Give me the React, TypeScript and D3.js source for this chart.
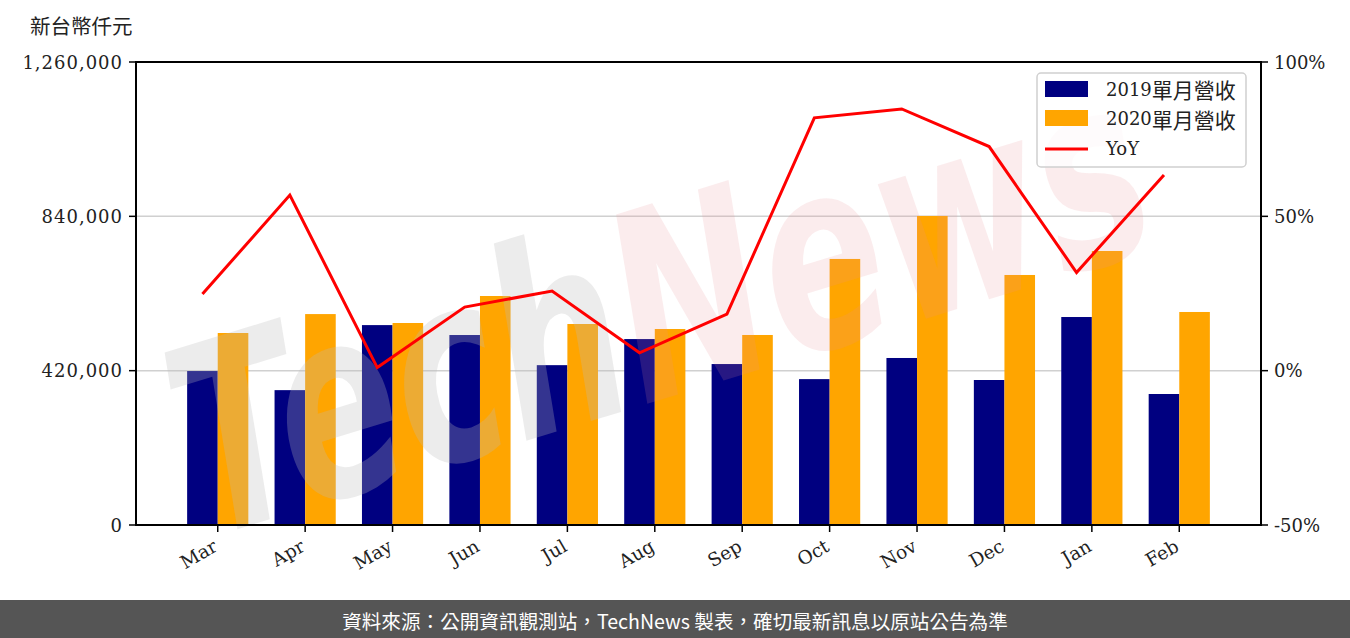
import React from "react";
import * as d3 from "d3";

const months = ["Mar", "Apr", "May", "Jun", "Jul", "Aug", "Sep", "Oct", "Nov", "Dec", "Jan", "Feb"];
const rev2019 = [419000, 367000, 544000, 517000, 435000, 506000, 438000, 397000, 454500, 394600, 566000, 356500];
const rev2020 = [522500, 574000, 549700, 623200, 547000, 533400, 517100, 724000, 841000, 680400, 745700, 579700];
const yoy = [24.8, 56.9, 1.0, 20.6, 25.8, 5.8, 18.3, 81.9, 84.8, 72.6, 31.8, 63.4];
const leftTicks = [0, 420000, 840000, 1260000];
const rightTicks = [-50, 0, 50, 100];
const legendYears = ["2019", "2020"];
const legendSuffix = "單月營收";

const W = 1350;
const H = 638;
const L = 136, R = 1261, T = 62, B = 525;
const NAVY = "#000080";
const ORANGE = "#FFA500";
const SERIF = "'DejaVu Serif', 'Noto Sans CJK TC', serif";
const CJK = "'Noto Sans CJK TC', sans-serif";

export default function App() {
  const x = d3.scaleLinear().domain([-0.935, months.length - 1 + 0.935]).range([L, R]);
  const y = d3.scaleLinear().domain([0, 1260000]).range([B, T]);
  const y2 = d3.scaleLinear().domain([-50, 100]).range([B, T]);
  const bw = x(0.35) - x(0);
  const line = d3
    .line<number>()
    .x((_, i) => x(i) - bw / 2)
    .y((d) => y2(d));
  const fmt = d3.format(",");

  return (
    <svg width={W} height={H} style={{ position: "absolute", left: 0, top: 0, background: "#fff" }}>
      <text x={30} y={34} fontFamily={CJK} fontSize={20.5} fill="#222">新台幣仟元</text>
      {/* grid */}
      {leftTicks.slice(1, 3).map((t) => (
        <line key={t} x1={L} x2={R} y1={y(t)} y2={y(t)} stroke="#d0d0d0" strokeWidth={1.5} />
      ))}
      {/* bars */}
      {rev2019.map((v, i) => (
        <rect key={"a" + i} x={x(i) - bw} y={y(v)} width={bw} height={B - y(v)} fill={NAVY} />
      ))}
      {rev2020.map((v, i) => (
        <rect key={"b" + i} x={x(i)} y={y(v)} width={bw} height={B - y(v)} fill={ORANGE} />
      ))}
      {/* watermark */}
      <g transform="translate(660,305) rotate(-17) scale(1,1.45)" fontFamily="'DejaVu Sans', sans-serif" fontWeight="bold" fontStyle="italic" fontSize={180} textAnchor="middle" dominantBaseline="central">
        <text x={0} y={0}>
          <tspan fill="rgb(185,185,185)" fillOpacity={0.28}>Tech</tspan>
          <tspan fill="rgb(230,140,150)" fillOpacity={0.17}>News</tspan>
        </text>
      </g>
      {/* line */}
      <path d={line(yoy) || ""} fill="none" stroke="#ff0000" strokeWidth={3} />
      {/* axes frame */}
      <rect x={L} y={T} width={R - L} height={B - T} fill="none" stroke="#000" strokeWidth={2} />
      {/* left ticks */}
      {leftTicks.map((t) => (
        <g key={"l" + t}>
          <line x1={L - 7} x2={L} y1={y(t)} y2={y(t)} stroke="#000" strokeWidth={1.5} />
          <text x={L - 13} y={y(t)} textAnchor="end" dominantBaseline="central" fontFamily={SERIF} fontSize={18} letterSpacing={1} fill="#222">{fmt(t)}</text>
        </g>
      ))}
      {/* right ticks */}
      {rightTicks.map((t) => (
        <g key={"r" + t}>
          <line x1={R} x2={R + 7} y1={y2(t)} y2={y2(t)} stroke="#000" strokeWidth={1.5} />
          <text x={R + 13} y={y2(t)} textAnchor="start" dominantBaseline="central" fontFamily={SERIF} fontSize={18} fill="#222">{t + "%"}</text>
        </g>
      ))}
      {/* x ticks */}
      {months.map((m, i) => (
        <g key={m}>
          <line x1={x(i)} x2={x(i)} y1={B} y2={B + 7} stroke="#000" strokeWidth={1.5} />
          <text transform={`translate(${x(i) - 6},${B + 13}) rotate(-30)`} textAnchor="end" dy="0.75em" fontFamily={SERIF} fontSize={18.5} fill="#222">{m}</text>
        </g>
      ))}
      {/* legend */}
      <rect x={1037} y={73} width={209} height={94} rx={4} fill="#fff" fillOpacity={0.8} stroke="#d0d0d0" strokeWidth={1.5} />
      <rect x={1045} y={81} width={43} height={16} fill={NAVY} />
      <rect x={1045} y={110} width={43} height={16} fill={ORANGE} />
      <line x1={1045} x2={1088} y1={149} y2={149} stroke="#ff0000" strokeWidth={3} />
      {legendYears.map((s, i) => (
        <text key={s} x={1106} y={89 + i * 29.5} dominantBaseline="central" fontFamily={SERIF} fontSize={18} fill="#222">
          {s}
          <tspan fontFamily={CJK} fontSize={21}>{legendSuffix}</tspan>
        </text>
      ))}
      <text x={1106} y={148} dominantBaseline="central" fontFamily={SERIF} fontSize={18} fill="#222">YoY</text>
      {/* footer */}
      <rect x={0} y={600} width={W} height={38} fill="#555555" />
      <text x={675} y={620} textAnchor="middle" dominantBaseline="central" fontFamily={CJK} fontSize={19.6} fill="#fff">資料來源：公開資訊觀測站，TechNews 製表，確切最新訊息以原站公告為準</text>
    </svg>
  );
}
